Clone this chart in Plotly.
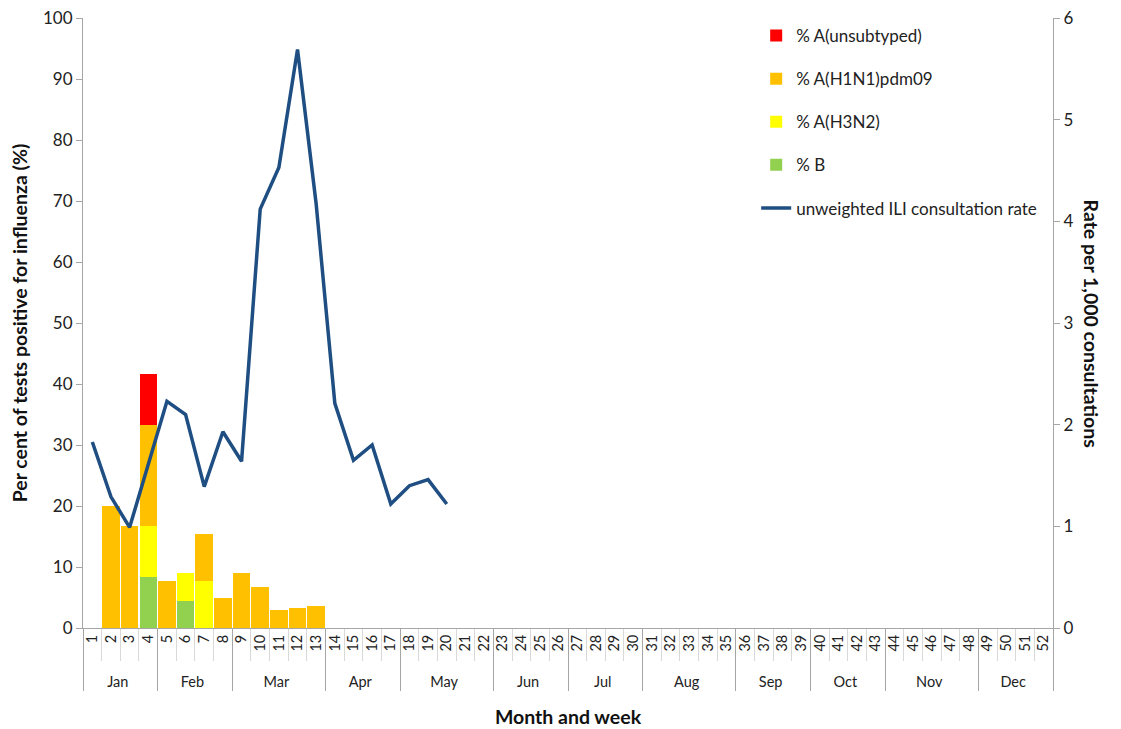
import plotly.graph_objects as go

# month grouping of the 52 weeks
months = ["Jan", "Feb", "Mar", "Apr", "May", "Jun", "Jul", "Aug", "Sep", "Oct", "Nov", "Dec"]
weeks_per_month = [4, 4, 5, 4, 5, 4, 4, 5, 4, 4, 5, 4]

# per cent positive by type, weeks 1-13 (nothing after week 13)
pct_b = [0, 0, 0, 8.33, 0, 4.5, 0, 0, 0, 0, 0, 0, 0]
pct_h3n2 = [0, 0, 0, 8.33, 0, 4.5, 7.7, 0, 0, 0, 0, 0, 0]
pct_h1n1 = [0, 20.0, 16.7, 16.67, 7.7, 0, 7.7, 5.0, 9.0, 6.7, 3.0, 3.3, 3.6]
pct_unsub = [0, 0, 0, 8.33, 0, 0, 0, 0, 0, 0, 0, 0, 0]

# unweighted ILI consultation rate, weeks 1-20
ili_rate = [1.83, 1.29, 0.99, 1.61, 2.23, 2.10, 1.39, 1.93, 1.64, 4.12,
            4.53, 5.69, 4.17, 2.21, 1.65, 1.80, 1.22, 1.40, 1.46, 1.22]

month_lvl = []
for m, n in zip(months, weeks_per_month):
    month_lvl += [m] * n
week_lvl = [str(w) for w in range(1, 53)]


def pad(vals):
    return vals + [0] * (52 - len(vals))


FONT = "Lato"
AXIS_GREY = "#A6A6A6"
TITLE_SIZE = 19.5

fig = go.Figure()

bars = [
    ("% B", pct_b, "#92D050", 4),
    ("% A(H3N2)", pct_h3n2, "#FFFF00", 3),
    ("% A(H1N1)pdm09", pct_h1n1, "#FFC000", 2),
    ("% A(unsubtyped)", pct_unsub, "#FF0000", 1),
]
for name, vals, colour, rank in bars:
    fig.add_trace(go.Bar(
        x=[month_lvl, week_lvl],
        y=pad(vals),
        name=name,
        legendgroup=name,
        legendrank=rank,
        marker=dict(color=colour, line=dict(width=0)),
    ))

n = len(ili_rate)
fig.add_trace(go.Scatter(
    x=[month_lvl[:n], week_lvl[:n]],
    y=ili_rate,
    mode="lines",
    name="unweighted ILI consultation rate",
    legendgroup="ili",
    legendrank=5,
    line=dict(color="#1F4E82", width=3.5),
    yaxis="y2",
))

# page body has an 8px default margin, so the figure is 8px smaller
fig.update_layout(
    width=1113,
    height=721,
    barmode="stack",
    bargap=0.06,
    plot_bgcolor="white",
    paper_bgcolor="white",
    font=dict(family=FONT, size=17, color="#222222"),
    margin=dict(l=75, r=68, t=10, b=101, autoexpand=False),
    showlegend=True,
    legend=dict(
        x=0.694, y=1.0, xanchor="left", yanchor="top",
        bgcolor="rgba(0,0,0,0)",
        font=dict(size=17, color="#222222"),
        traceorder="grouped",
        tracegroupgap=18,
        itemwidth=30,
    ),
    xaxis=dict(
        type="multicategory",
        automargin=False,
        tickangle=-90,
        tickprefix="\u00a0\u00a0",
        showline=True, linecolor=AXIS_GREY, linewidth=1,
        ticks="outside", ticklen=32, tickcolor="#D9D9D9",
        showdividers=True, dividercolor=AXIS_GREY, dividerwidth=1,
        tickfont=dict(size=14.5),
        showgrid=False,
        title=dict(text="<b>Month and week</b>", font=dict(size=TITLE_SIZE, color="#111111"), standoff=21),
    ),
    yaxis=dict(
        range=[0, 100], dtick=10,
        automargin=False,
        ticklabeloverflow="allow",
        showline=True, linecolor=AXIS_GREY, linewidth=1,
        ticks="outside", ticklen=6, tickcolor=AXIS_GREY,
        showgrid=False, zeroline=False,
        tickfont=dict(size=17),
        title=dict(text="<b>Per cent of tests positive for influenza (%)</b>",
                   font=dict(size=TITLE_SIZE, color="#111111"), standoff=10),
    ),
    yaxis2=dict(
        range=[0, 6], dtick=1,
        automargin=False,
        ticklabeloverflow="allow",
        overlaying="y", side="right",
        showline=True, linecolor=AXIS_GREY, linewidth=1,
        ticks="outside", ticklen=6, tickcolor=AXIS_GREY,
        showgrid=False, zeroline=False,
        tickfont=dict(size=17),
    ),
    annotations=[dict(
        text="<b>Rate per 1,000 consultations</b>",
        xref="paper", yref="paper", x=1.0, y=0.5,
        xshift=52, textangle=90, showarrow=False,
        font=dict(size=TITLE_SIZE, color="#111111"),
    )],
)

fig.write_html("out.html")
